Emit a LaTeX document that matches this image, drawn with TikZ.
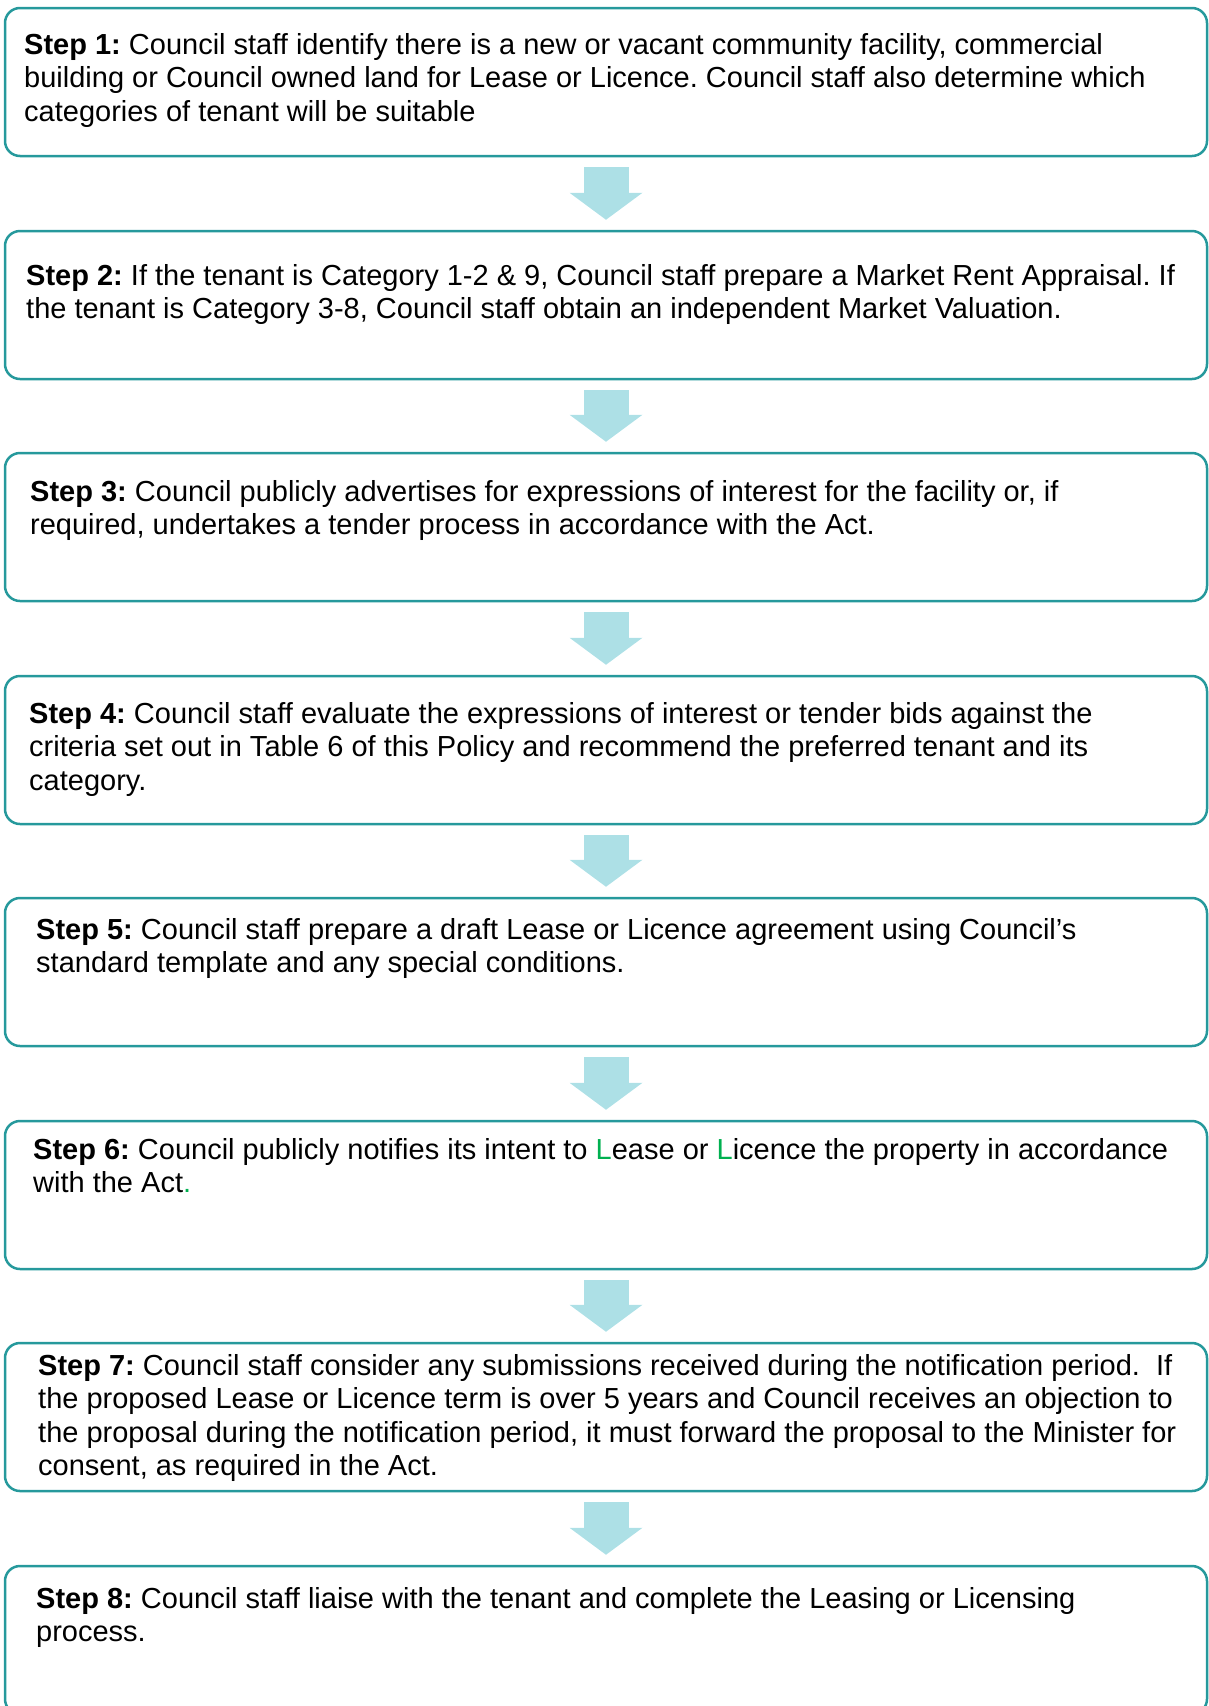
\documentclass[tikz,border=0pt]{standalone}
\usepackage{fontspec}
\setmainfont{Liberation Sans}
\usetikzlibrary{arrows.meta}

\definecolor{boxline}{HTML}{26999C}
\definecolor{flowfill}{HTML}{ADE0E6}
\definecolor{markgreen}{HTML}{00B050}

\newcommand{\stepstrut}{\rule{0pt}{22pt}}
\newcommand{\stepno}[1]{\stepstrut\textbf{Step #1:}}
\newcommand{\gr}[1]{{\color{markgreen}#1}}
\frenchspacing

\begin{document}
\begin{tikzpicture}[x=1pt,y=-1pt,
  stepbox/.style={draw=boxline,line width=2.5pt,rounded corners=15pt,
    minimum width=1202pt,minimum height=148pt,inner sep=0pt},
  steptext/.style={anchor=north west,inner sep=0pt,align=left,
    font=\fontsize{29}{33.5}\selectfont},
  flow/.style={draw=flowfill,line width=45pt,
    -{Triangle[width=73pt,length=27pt,line width=0pt]},
    shorten <=10pt,shorten >=10pt}]
  \useasboundingbox (0,0) rectangle (1208,1706);

  \draw (606,  82) node[stepbox](S1) {};
  \draw (606, 305) node[stepbox](S2) {};
  \draw (606, 527) node[stepbox](S3) {};
  \draw (606, 750) node[stepbox](S4) {};
  \draw (606, 972) node[stepbox](S5) {};
  \draw (606,1195) node[stepbox](S6) {};
  \draw (606,1417) node[stepbox](S7) {};
  \draw (606,1640) node[stepbox](S8) {};

  \draw (24,  32) node[steptext](T1) {\stepno{1} Council staff identify there is a new or vacant community facility, commercial\\
    building or Council owned land for Lease or Licence. Council staff also determine which\\
    categories of tenant will be suitable};
  \draw (26, 263) node[steptext](T2) {\stepno{2} If the tenant is Category 1-2 \& 9, Council staff prepare a Market Rent Appraisal. If\\
    the tenant is Category 3-8, Council staff obtain an independent Market Valuation.};
  \draw (30, 479) node[steptext](T3) {\stepno{3} Council publicly advertises for expressions of interest for the facility or, if\\
    required, undertakes a tender process in accordance with the Act.};
  \draw (29, 701) node[steptext](T4) {\stepno{4} Council staff evaluate the expressions of interest or tender bids against the\\
    criteria set out in Table 6 of this Policy and recommend the preferred tenant and its\\
    category.};
  \draw (36, 917) node[steptext](T5) {\stepno{5} Council staff prepare a draft Lease or Licence agreement using Council’s\\
    standard template and any special conditions.};
  \draw (33,1137) node[steptext](T6) {\stepno{6} Council publicly notifies its intent to \gr{L}ease or \gr{L}icence the property in accordance\\
    with the Act\gr{.}};
  \draw (38,1353) node[steptext](T7) {\stepno{7} Council staff consider any submissions received during the notification period.\ \ If\\
    the proposed Lease or Licence term is over 5 years and Council receives an objection to\\
    the proposal during the notification period, it must forward the proposal to the Minister for\\
    consent, as required in the Act.};
  \draw (36,1586) node[steptext](T8) {\stepno{8} Council staff liaise with the tenant and complete the Leasing or Licensing\\
    process.};

  \path[flow] (S1) -- (S2);
  \path[flow] (S2) -- (S3);
  \path[flow] (S3) -- (S4);
  \path[flow] (S4) -- (S5);
  \path[flow] (S5) -- (S6);
  \path[flow] (S6) -- (S7);
  \path[flow] (S7) -- (S8);

\end{tikzpicture}
\end{document}
